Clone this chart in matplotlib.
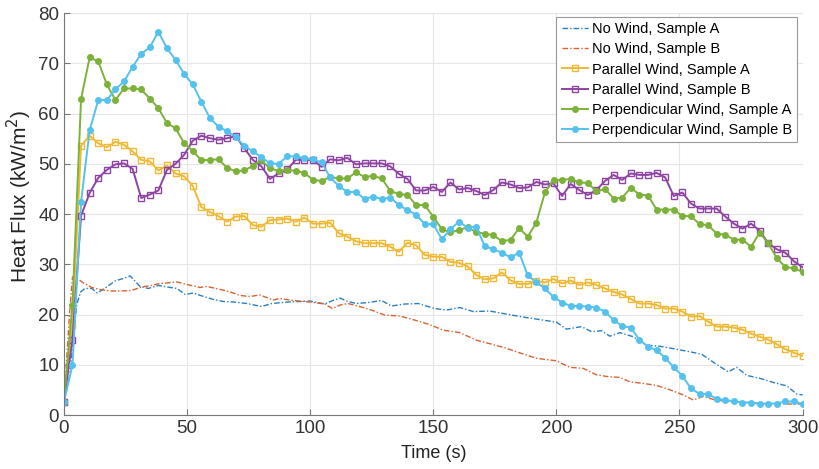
import numpy as np
import matplotlib
matplotlib.use("Agg")
import matplotlib.pyplot as plt

plt.rcParams['font.family'] = ['Liberation Sans', 'DejaVu Sans']

# time base of the marked series (one sample every ~3.5 s)
t_mark = np.linspace(0, 300, 87)

# No Wind series are logged without markers, read at irregular times
t_nw_a = [0, 2.4, 3.8, 5.2, 6.8, 8.5, 11.3, 13.6, 17.4, 20.8, 24.2, 26.9, 30.9, 34.3,
          38.4, 41.8, 45.9, 49.3, 52.6, 56.7, 60.8, 64.9, 68.9, 74.4, 80.3, 84.3, 91.1,
          100, 106, 108.7, 112.1, 115.4, 118.8, 123.6, 129, 133, 138.4, 143.9, 150.6,
          155.4, 160.8, 166.2, 173, 179.7, 187.9, 194.6, 200, 204.1, 210.2, 214.3, 218.3,
          221.7, 225.8, 231.2, 236.6, 242, 248.8, 254.2, 259, 264.4, 269.8, 273.2, 277.3,
          282.7, 288.1, 293.6, 297.6, 300]
no_wind_a = [2.6, 8, 15, 22, 24.5, 25.2, 25.2, 24.3, 25.5, 26.7, 27.2, 27.7, 25.6, 25.2,
             25.8, 25.5, 25.2, 24.0, 24.3, 23.6, 23.0, 22.6, 22.5, 22.2, 21.6, 22.2, 22.5,
             22.7, 22.1, 22.7, 23.3, 22.6, 22.2, 22.4, 22.8, 21.7, 22.1, 22.2, 21.2,
             20.9, 21.4, 20.6, 20.7, 20.1, 19.4, 18.9, 18.5, 17.1, 17.6, 16.6, 16.8,
             15.7, 16.4, 15.6, 13.9, 13.7, 13.1, 12.6, 12.1, 10.3, 8.6, 9.5, 7.9,
             7.3, 6.5, 5.8, 4.2, 4.0]

t_nw_b = [0, 1.1, 2.4, 3.5, 5.2, 7.9, 11.3, 14.7, 18.7, 23.5, 27.5, 31.6, 35.7, 39.1,
          41.8, 45.9, 49.9, 55.4, 58.1, 63.5, 67.6, 71.6, 75.5, 79.6, 85, 87.7, 93.1,
          99.9, 106, 109, 112.1, 115.4, 120.8, 124.9, 130.3, 136.4, 141.8, 148.6, 154,
          160.8, 167.6, 173, 179, 185, 192, 200, 205.5, 210.9, 216.3, 221.7, 225.8,
          229.9, 235.3, 240.7, 246.2, 251.6, 255.6, 259.7, 263.8, 269.2, 277.3, 285.5,
          293.6, 300]
no_wind_b = [2.6, 10.9, 20.9, 27.5, 27.3, 26.3, 25.4, 25.0, 24.7, 24.7, 24.8, 25.5, 25.8, 26.2,
             26.3, 26.5, 26.0, 25.4, 25.6, 25.0, 24.5, 23.8, 23.6, 23.9, 22.9, 23.2, 22.8,
             22.5, 22.1, 21.2, 21.9, 22.2, 21.5, 20.9, 19.9, 19.7, 19.0, 18.0, 16.9,
             16.4, 14.9, 14.2, 13.4, 12.4, 11.3, 10.8, 9.5, 9.3, 8.0, 7.6, 7.5,
             6.6, 6.3, 5.9, 5.0, 4.0, 3.0, 3.7, 3.1, 2.7, 2.5, 2.3,
             2.2, 2.2]

parallel_a = [2.6, 18, 53.6, 55.6, 54.1, 53.3, 54.4, 53.8, 52.5, 50.8, 50.5, 48.7, 49.7, 48.1,
              47.5, 45.6, 41.4, 40.4, 39.6, 38.5, 39.5, 39.6, 37.8, 37.5, 38.8, 38.9, 39.1,
              38.5, 39.3, 38.1, 38.1, 38.3, 36.2, 35.5, 34.6, 34.2, 34.2, 34.2, 33.5, 32.5,
              34.3, 33.8, 31.9, 31.5, 31.5, 30.5, 30.3, 29.6, 27.9, 27.0, 27.2, 28.4, 26.8,
              26.1, 26.1, 26.7, 26.4, 27.1, 26.2, 26.8, 25.9, 26.4, 25.9, 25.2, 24.5, 24.0,
              23.1, 22.2, 22.2, 21.9, 21.2, 21.2, 20.6, 19.6, 19.7, 18.6, 17.6, 17.6, 17.4,
              17.0, 16.2, 15.6, 15.0, 14.1, 13.1, 12.4, 11.8]

parallel_b = [2.6, 15, 39.7, 44.2, 47.2, 48.8, 49.9, 50.1, 49.0, 43.2, 43.9, 44.7, 48.8, 50.0,
              51.8, 54.6, 55.6, 55.1, 54.8, 55.1, 55.5, 53.1, 50.8, 49.5, 47.0, 48.1, 48.9,
              50.8, 50.8, 50.8, 49.4, 50.9, 50.7, 51.2, 49.9, 50.1, 50.1, 50.1, 49.5, 48.0,
              47.0, 44.7, 44.7, 45.4, 44.4, 46.3, 44.9, 45.2, 44.6, 43.8, 44.8, 46.3, 45.9,
              45.2, 45.3, 46.4, 45.9, 46.1, 43.6, 46.0, 44.8, 43.8, 44.8, 46.6, 47.8, 46.8,
              48.1, 47.8, 47.8, 48.2, 47.3, 43.6, 44.3, 42.1, 41.1, 41.1, 41.1, 39.5, 38.1,
              37.1, 38.1, 36.7, 34.2, 33.0, 32.3, 30.6, 29.4]

perp_a = [2.6, 22, 62.9, 71.2, 70.4, 65.8, 62.7, 65.0, 65.0, 64.8, 63.0, 61.1, 58.1, 57.1,
          54.1, 52.6, 50.7, 50.8, 50.9, 49.2, 48.5, 48.7, 49.6, 50.7, 49.1, 48.6, 48.8,
          48.6, 48.2, 46.8, 46.6, 47.4, 47.1, 47.1, 48.3, 47.4, 47.6, 47.1, 44.6, 44.0,
          43.8, 41.8, 41.8, 39.5, 37.0, 36.4, 36.8, 37.4, 36.4, 36.1, 35.8, 34.6, 34.9,
          37.2, 35.5, 38.3, 44.3, 46.8, 46.8, 47.0, 46.3, 46.2, 44.5, 45.0, 43.1, 43.3,
          45.2, 43.9, 43.7, 40.9, 40.9, 40.9, 39.6, 39.6, 38.0, 37.8, 36.1, 35.9, 34.9,
          34.9, 33.5, 36.3, 34.2, 31.2, 29.5, 29.2, 28.5]

perp_b = [2.6, 9.9, 42.4, 56.7, 62.7, 62.7, 64.8, 66.4, 69.3, 71.9, 73.2, 76.3, 73.0, 70.7,
          67.9, 65.8, 62.4, 59.1, 57.4, 56.5, 55.3, 53.6, 52.5, 51.3, 50.1, 50.0, 51.5,
          51.5, 51.1, 50.9, 50.3, 47.3, 45.6, 44.4, 44.4, 43.0, 43.5, 43.0, 43.3, 41.8,
          40.8, 39.9, 38.0, 38.0, 35.0, 37.0, 38.5, 37.3, 37.5, 33.6, 33.0, 32.3, 31.4,
          32.3, 27.8, 26.4, 25.2, 23.5, 22.4, 21.7, 21.7, 21.6, 21.4, 20.6, 18.9, 17.7,
          17.4, 15.0, 13.6, 12.9, 11.4, 9.5, 7.8, 5.3, 4.2, 4.2, 3.2, 3.0, 2.7,
          2.5, 2.5, 2.2, 2.3, 2.3, 2.7, 2.7, 2.2]

# MATLAB default order, a bit softened like the reference
c_blue = '#2a7fc4'
c_orange = '#dc6130'
c_yellow = '#efb935'
c_purple = '#8e44a3'
c_green = '#7cb23a'
c_cyan = '#55c1ef'

fig = plt.figure(figsize=(8.19, 4.69), dpi=100)
ax = fig.add_axes([0.078, 0.115, 0.902, 0.857])

dashdot = (0, (4, 1.5, 1, 1.5))
ax.plot(t_nw_a, no_wind_a, color=c_blue, lw=1.0, ls=dashdot, label='No Wind, Sample A')
ax.plot(t_nw_b, no_wind_b, color=c_orange, lw=1.0, ls=dashdot, label='No Wind, Sample B')
ax.plot(t_mark[:len(parallel_a)], parallel_a, color=c_yellow, lw=1.4, marker='s', ms=4.5,
        mfc='none', mew=1.0, label='Parallel Wind, Sample A')
ax.plot(t_mark, parallel_b, color=c_purple, lw=1.4, marker='s', ms=4.5,
        mfc='none', mew=1.0, label='Parallel Wind, Sample B')
ax.plot(t_mark, perp_a, color=c_green, lw=1.4, marker='o', ms=4, label='Perpendicular Wind, Sample A')
ax.plot(t_mark, perp_b, color=c_cyan, lw=1.4, marker='o', ms=4, label='Perpendicular Wind, Sample B')

ax.set_xlim(0, 300)
ax.set_ylim(0, 80)
ax.set_xticks(range(0, 301, 50))
ax.set_yticks(range(0, 81, 10))
ax.grid(True, color='#e6e6e6', lw=0.8)
ax.set_axisbelow(True)
for side in ['top', 'right']:
    ax.spines[side].set_visible(False)
for side in ['left', 'bottom']:
    ax.spines[side].set_color('#777777')
ax.tick_params(direction='in', length=4, colors='#777777', labelcolor='#333333', labelsize=13.5)

ax.set_xlabel('Time (s)', fontsize=13, color='#222222', labelpad=6)
ax.set_ylabel('Heat Flux (kW/m$^2$)', fontsize=15, color='#222222')
ax.yaxis.set_label_coords(-0.041, 0.545)

leg = ax.legend(loc='upper right', bbox_to_anchor=(0.993, 0.99), fontsize=10.5,
                handlelength=1.8, handletextpad=0.3, labelspacing=0.42, borderpad=0.35,
                borderaxespad=0, fancybox=False, framealpha=1)
leg.get_frame().set_edgecolor('#999999')
leg.get_frame().set_linewidth(0.8)

fig.savefig('out.png', dpi=100)
